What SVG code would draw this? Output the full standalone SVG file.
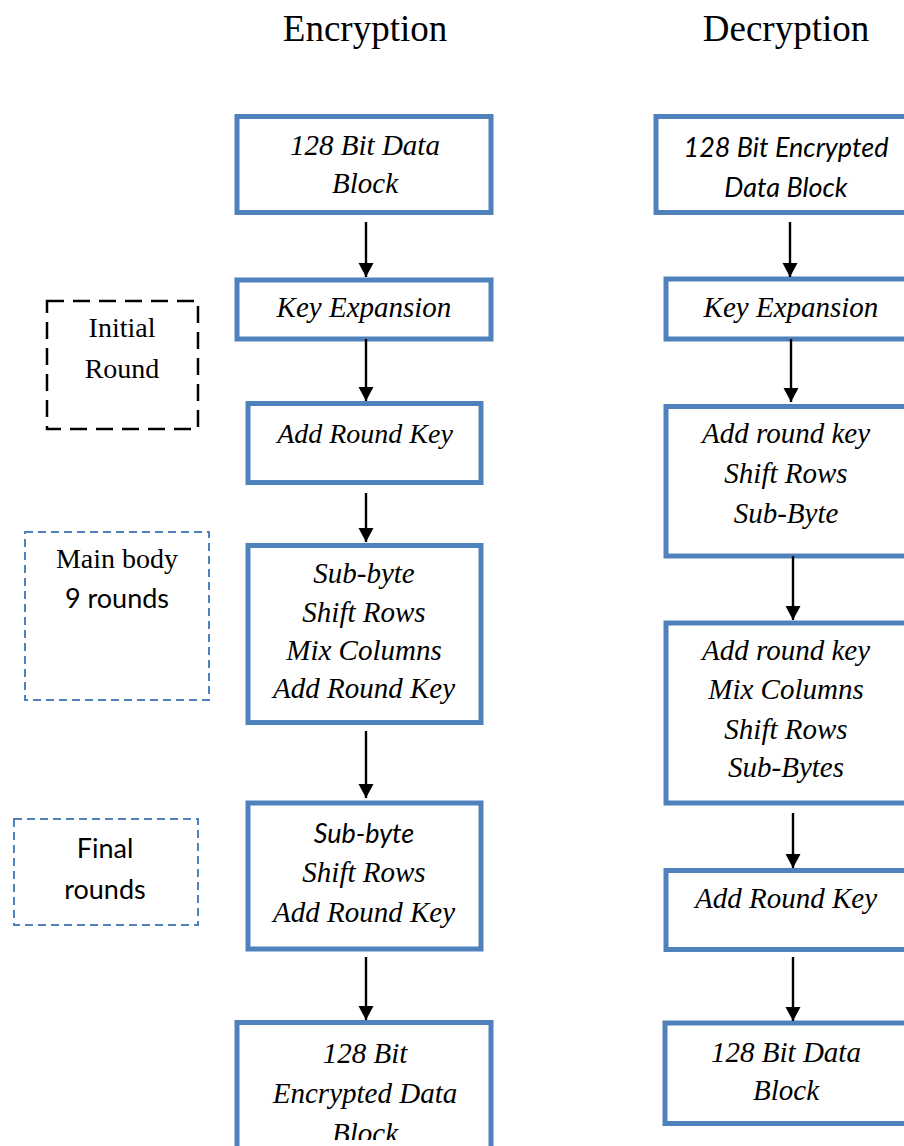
<svg xmlns="http://www.w3.org/2000/svg" width="904" height="1146" viewBox="0 0 904 1146">
<defs>
<marker id="ah" markerUnits="userSpaceOnUse" markerWidth="18" markerHeight="16" refX="14" refY="8" orient="auto">
<path d="M0,0.5 L14,8 L0,15.5 Z" fill="#000"/>
</marker>
<clipPath id="cut"><rect x="0" y="0" width="904" height="1140"/></clipPath>
<style>
.box{fill:#fff;stroke:#4F81BD;stroke-width:5}
.serif{font-family:"Liberation Serif","Times New Roman",serif;font-size:29px;font-style:italic;fill:#000;text-anchor:middle}
.sans{font-family:Lato,"Liberation Sans",sans-serif;font-size:27px;font-style:italic;fill:#000;text-anchor:middle}
.title{font-family:"Liberation Serif","Times New Roman",serif;font-size:37px;fill:#000;text-anchor:middle}
.lbl{font-family:"Liberation Serif","Times New Roman",serif;font-size:28px;fill:#000;text-anchor:middle}
.lbls{font-family:Lato,"Liberation Sans",sans-serif;font-size:27px;fill:#000;text-anchor:middle}
.conn line{stroke:#000;stroke-width:2.4;marker-end:url(#ah)}
</style>
</defs>
<rect width="904" height="1146" fill="#fff"/>
<text class="title" x="365" y="41">Encryption</text>
<text class="title" x="786" y="41">Decryption</text>

<g id="initial-round">
<rect x="47" y="301" width="151" height="128" fill="none" stroke="#000" stroke-width="2.5" stroke-dasharray="17 9"/>
<text class="lbl" x="122" y="337">Initial</text>
<text class="lbl" x="122" y="378">Round</text>
</g>
<g id="main-body">
<rect x="25" y="532" width="184" height="168" fill="none" stroke="#4F81BD" stroke-width="2" stroke-dasharray="8 5"/>
<text class="lbl" x="117" y="568">Main body</text>
<text class="lbls" x="117" y="608">9 rounds</text>
</g>
<g id="final-rounds">
<rect x="14" y="819" width="184" height="106" fill="none" stroke="#4F81BD" stroke-width="2" stroke-dasharray="8 5"/>
<text class="lbls" x="105" y="858">Final</text>
<text class="lbls" x="105" y="899">rounds</text>
</g>

<g id="e1"><rect class="box" x="237" y="116.5" width="254" height="96"/>
<text class="serif" x="365" y="155">128 Bit Data</text>
<text class="serif" x="365" y="193">Block</text></g>
<g id="e2"><rect class="box" x="237" y="280" width="254" height="59"/>
<text class="serif" x="364" y="317">Key Expansion</text></g>
<g id="e3"><rect class="box" x="248" y="403.5" width="233" height="79"/>
<text class="serif" x="365" y="443" style="font-size:28px">Add Round Key</text></g>
<g id="e4"><rect class="box" x="248" y="545.5" width="233" height="177"/>
<text class="serif" x="364" y="583">Sub-byte</text>
<text class="serif" x="364" y="622">Shift Rows</text>
<text class="serif" x="364" y="660">Mix Columns</text>
<text class="serif" x="364" y="698">Add Round Key</text></g>
<g id="e5"><rect class="box" x="248" y="803" width="233" height="146"/>
<text class="sans" x="364" y="843">Sub-byte</text>
<text class="serif" x="364" y="882">Shift Rows</text>
<text class="serif" x="364" y="922">Add Round Key</text></g>
<g id="e6"><rect class="box" x="237" y="1022.5" width="254" height="200"/>
<text class="serif" x="365" y="1063">128 Bit</text>
<text class="serif" x="365" y="1103">Encrypted Data</text>
<text class="serif" x="365" y="1143" clip-path="url(#cut)">Block</text></g>

<g id="d1"><rect class="box" x="656" y="116.5" width="252" height="96"/>
<text class="sans" x="786" y="157">128 Bit Encrypted</text>
<text class="sans" x="786" y="197">Data Block</text></g>
<g id="d2"><rect class="box" x="666" y="279" width="242" height="60"/>
<text class="serif" x="791" y="317">Key Expansion</text></g>
<g id="d3"><rect class="box" x="666" y="406.5" width="242" height="149.5"/>
<text class="serif" x="786" y="443">Add round key</text>
<text class="serif" x="786" y="483">Shift Rows</text>
<text class="serif" x="786" y="523">Sub-Byte</text></g>
<g id="d4"><rect class="box" x="666" y="623" width="242" height="180"/>
<text class="serif" x="786" y="660">Add round key</text>
<text class="serif" x="786" y="699">Mix Columns</text>
<text class="serif" x="786" y="739">Shift Rows</text>
<text class="serif" x="786" y="777">Sub-Bytes</text></g>
<g id="d5"><rect class="box" x="666" y="870.5" width="242" height="79"/>
<text class="serif" x="786" y="908">Add Round Key</text></g>
<g id="d6"><rect class="box" x="665" y="1023" width="243" height="100.5"/>
<text class="serif" x="786" y="1062">128 Bit Data</text>
<text class="serif" x="786" y="1100">Block</text></g>

<g class="conn" id="connectors">
<line x1="366" y1="222" x2="366" y2="277"/>
<line x1="366" y1="339" x2="366" y2="401"/>
<line x1="366" y1="493" x2="366" y2="542"/>
<line x1="366" y1="731" x2="366" y2="798"/>
<line x1="366" y1="957" x2="366" y2="1020"/>
<line x1="790" y1="222" x2="790" y2="277"/>
<line x1="791" y1="339" x2="791" y2="402"/>
<line x1="793" y1="556" x2="793" y2="620"/>
<line x1="793" y1="813" x2="793" y2="868"/>
<line x1="793" y1="957" x2="793" y2="1021"/>
</g>
</svg>
